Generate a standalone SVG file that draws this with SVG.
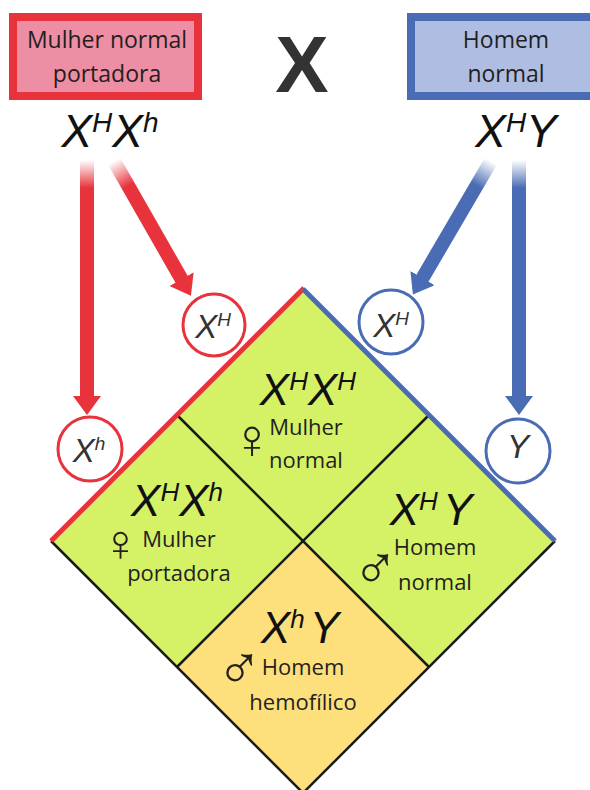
<svg xmlns="http://www.w3.org/2000/svg" width="590" height="790" viewBox="0 0 590 790">
<style>
.lbl{font-family:"Open Sans","Liberation Sans",sans-serif;font-size:22px;fill:#231f20;text-anchor:middle}
.big{font-size:23px}
.geno{font-family:"Liberation Sans","Arial",sans-serif;font-style:italic;fill:#111;text-anchor:middle}
.sym{font-family:"DejaVu Sans",sans-serif;font-weight:200;fill:#231f20}
.cell{stroke:none}
.inner{stroke:#1a1a1a;stroke-width:2.5;fill:none}
.rc{fill:#fff;stroke:#e8333c;stroke-width:3}
.bc{fill:#fff;stroke:#4a6cb4;stroke-width:3}
.ctext{font-family:"Liberation Sans","Arial",sans-serif;font-style:italic;fill:#333;text-anchor:middle}
</style>
<defs>
<marker id="hr" markerUnits="userSpaceOnUse" viewBox="0 -14 19 28" markerWidth="19" markerHeight="28" refX="1" refY="0" orient="auto"><path d="M0,-14 L19,0 L0,14 z" fill="#e8333c"/></marker>
<marker id="hb" markerUnits="userSpaceOnUse" viewBox="0 -14 19 28" markerWidth="19" markerHeight="28" refX="1" refY="0" orient="auto"><path d="M0,-14 L19,0 L0,14 z" fill="#4a6cb4"/></marker>
<linearGradient id="g1" gradientUnits="userSpaceOnUse" x1="87" y1="160" x2="87" y2="188"><stop offset="0" stop-color="#e8333c" stop-opacity="0"/><stop offset="1" stop-color="#e8333c"/></linearGradient>
<linearGradient id="g2" gradientUnits="userSpaceOnUse" x1="114" y1="161" x2="128" y2="186"><stop offset="0" stop-color="#e8333c" stop-opacity="0"/><stop offset="1" stop-color="#e8333c"/></linearGradient>
<linearGradient id="g3" gradientUnits="userSpaceOnUse" x1="519" y1="160" x2="519" y2="188"><stop offset="0" stop-color="#4a6cb4" stop-opacity="0"/><stop offset="1" stop-color="#4a6cb4"/></linearGradient>
<linearGradient id="g4" gradientUnits="userSpaceOnUse" x1="491" y1="161" x2="477" y2="186"><stop offset="0" stop-color="#4a6cb4" stop-opacity="0"/><stop offset="1" stop-color="#4a6cb4"/></linearGradient>
</defs>

<!-- parent boxes -->
<g id="mother">
<rect x="13" y="17" width="185" height="79" fill="#ee8ea4" stroke="#e8333c" stroke-width="8"/>
<text class="lbl big" x="107" y="48">Mulher normal</text>
<text class="lbl big" x="107" y="82">portadora</text>
</g>
<g id="cross">
<text x="302" y="92" font-family="Liberation Sans,Arial,sans-serif" font-weight="bold" font-size="80" fill="#333" text-anchor="middle">X</text>
</g>
<g id="father">
<rect x="411" y="17" width="190" height="79" fill="#aebde1" stroke="#4a6cb4" stroke-width="8"/>
<text class="lbl big" x="506" y="48">Homem</text>
<text class="lbl big" x="506" y="82">normal</text>
</g>
<g id="mother-genotype">
<text class="geno" x="110" y="147" font-size="46">X<tspan font-size="28" dy="-15">H</tspan><tspan dy="15">X</tspan><tspan font-size="28" dy="-15">h</tspan></text>
</g>
<g id="father-genotype">
<text class="geno" x="516" y="147" font-size="46">X<tspan font-size="28" dy="-15">H</tspan><tspan dy="15">Y</tspan></text>
</g>

<!-- connectors -->
<g id="connectors" fill="none" stroke-width="14">
<line x1="87" y1="160" x2="87" y2="397" stroke="url(#g1)" marker-end="url(#hr)"/>
<line x1="114" y1="161" x2="182" y2="280" stroke="url(#g2)" marker-end="url(#hr)"/>
<line x1="519" y1="160" x2="519" y2="397" stroke="url(#g3)" marker-end="url(#hb)"/>
<line x1="491" y1="161" x2="422" y2="279" stroke="url(#g4)" marker-end="url(#hb)"/>
</g>

<!-- gametes -->
<g id="gamete-mXH">
<circle class="rc" cx="214" cy="325" r="31"/>
<text class="ctext" x="213" y="338" font-size="33">X<tspan font-size="19" dy="-12">H</tspan></text>
</g>
<g id="gamete-mXh">
<circle class="rc" cx="90" cy="449" r="32"/>
<text class="ctext" x="89" y="462" font-size="33">X<tspan font-size="19" dy="-12">h</tspan></text>
</g>
<g id="gamete-fXH">
<circle class="bc" cx="391" cy="322" r="32"/>
<text class="ctext" x="391" y="337" font-size="33">X<tspan font-size="19" dy="-12">H</tspan></text>
</g>
<g id="gamete-fY">
<circle class="bc" cx="518" cy="451" r="32"/>
<text class="ctext" x="518" y="458" font-size="33">Y</text>
</g>

<!-- Punnett diamond -->
<g id="cell-top">
<polygon class="cell" points="303,289 429,415 303,541 177,415" fill="#d5f266"/>
</g>
<g id="cell-left">
<polygon class="cell" points="177,415 303,541 177,667 51,541" fill="#d5f266"/>
</g>
<g id="cell-right">
<polygon class="cell" points="429,415 555,541 429,667 303,541" fill="#d5f266"/>
</g>
<g id="cell-bottom">
<polygon class="cell" points="303,541 429,667 303,793 177,667" fill="#fde07c"/>
</g>
<g id="grid">
<line class="inner" x1="177" y1="415" x2="429" y2="667"/>
<line class="inner" x1="429" y1="415" x2="177" y2="667"/>
<polyline class="inner" points="51,541 303,793 555,541"/>
<line x1="51" y1="541" x2="304" y2="288" stroke="#e8333c" stroke-width="5"/>
<line x1="303" y1="289" x2="555" y2="541" stroke="#4a6cb4" stroke-width="5"/>
</g>

<g id="label-top">
<text class="geno" x="308" y="405" font-size="44">X<tspan font-size="26" dy="-15">H</tspan><tspan dy="15">X</tspan><tspan font-size="26" dy="-15">H</tspan></text>
<text class="sym" x="231" y="458" font-size="56">♀</text>
<text class="lbl" x="306" y="435">Mulher</text>
<text class="lbl" x="306" y="468">normal</text>
</g>
<g id="label-left">
<text class="geno" x="177" y="516" font-size="44">X<tspan font-size="26" dy="-15">H</tspan><tspan dy="15">X</tspan><tspan font-size="26" dy="-15">h</tspan></text>
<text class="sym" x="101" y="561" font-size="52">♀</text>
<text class="lbl" x="179" y="547">Mulher</text>
<text class="lbl" x="179" y="581">portadora</text>
</g>
<g id="label-right">
<text class="geno" x="431" y="525" font-size="44">X<tspan font-size="26" dy="-15">H</tspan><tspan dy="15" dx="5">Y</tspan></text>
<text class="sym" x="352" y="589" font-size="62">♂</text>
<text class="lbl" x="435" y="555">Homem</text>
<text class="lbl" x="435" y="590">normal</text>
</g>
<g id="label-bottom">
<text class="geno" x="300" y="643" font-size="44">X<tspan font-size="26" dy="-15">h</tspan><tspan dy="15" dx="5">Y</tspan></text>
<text class="sym" x="216" y="689" font-size="62">♂</text>
<text class="lbl" x="303" y="675">Homem</text>
<text class="lbl" x="303" y="710">hemofílico</text>
</g>
</svg>
